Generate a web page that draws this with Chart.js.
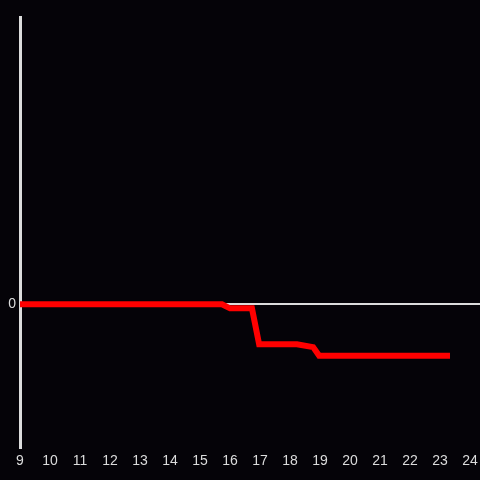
<!DOCTYPE html>
<html>
<head>
<meta charset="utf-8">
<script src="https://cdn.jsdelivr.net/npm/chart.js@4"></script>
<style>
  html, body { margin: 0; padding: 0; background: #050308; }
  #wrap { width: 480px; height: 480px; }
</style>
</head>
<body>
<div id="wrap"><canvas id="chart"></canvas></div>
<script>
// hour of day (x) and value (y)
const hours = [9, 15.73, 16.0, 16.73, 16.97, 18.23, 18.77, 18.97, 23.33];
const values = [0, 0, -1.4, -1.4, -13.9, -13.9, -14.9, -17.9, -17.9];
const xTicks = [9, 10, 11, 12, 13, 14, 15, 16, 17, 18, 19, 20, 21, 22, 23, 24];
const yTicks = [0];

var axisColour = "#dcdcdc";

var points = hours.map((h, i) => ({ x: h, y: values[i] }));

const config = {
    type: 'line',
    data: {
        datasets: [{
            data: points,
            borderColor: "#ff0000",
            borderWidth: 6,
            pointRadius: 0,
            tension: 0,
            fill: false
        }]
    },
    options: {
        responsive: true,
        maintainAspectRatio: false,
        animation: false,
        layout: {
            padding: { top: 17, right: 0, left: 0, bottom: 0 }
        },
        plugins: {
            legend: { display: false },
            tooltip: { enabled: false }
        },
        scales: {
            x: {
                type: 'linear',
                min: 9,
                max: 24.33,
                afterBuildTicks: (scale) => { scale.ticks = xTicks.map(v => ({ value: v })); },
                afterFit: (scale) => {
                    scale.height = 32;
                    scale.paddingLeft = 0;
                    scale.paddingRight = 0;
                },
                grid: { display: false, drawTicks: false },
                border: { display: false },
                ticks: {
                    color: axisColour,
                    padding: 5,
                    maxRotation: 0,
                    autoSkip: false,
                    font: { family: "Liberation Sans", size: 14 }
                }
            },
            y: {
                min: -50,
                max: 100,
                afterBuildTicks: (scale) => { scale.ticks = yTicks.map(v => ({ value: v })); },
                afterFit: (scale) => {
                    scale.width = 20;
                    scale.paddingTop = 0;
                    scale.paddingBottom = 0;
                },
                grid: {
                    color: axisColour,
                    lineWidth: 2,
                    drawTicks: false
                },
                border: { display: true, color: axisColour, width: 3 },
                ticks: {
                    color: axisColour,
                    padding: 4,
                    font: { family: "Liberation Sans", size: 14 }
                }
            }
        }
    }
};

const myChart = new Chart(document.getElementById("chart"), config);
</script>
</body>
</html>
